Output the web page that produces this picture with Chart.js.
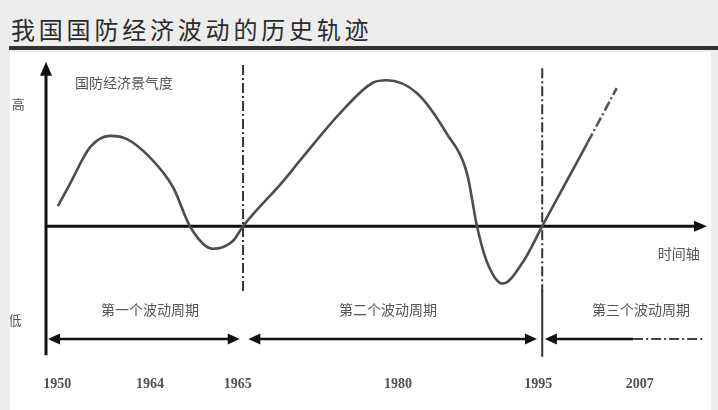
<!DOCTYPE html>
<html lang="zh">
<head>
<meta charset="utf-8">
<title>我国国防经济波动的历史轨迹</title>
<script src="https://cdn.jsdelivr.net/npm/chart.js@4.4.1/dist/chart.umd.min.js"></script>
<style>
  html, body { margin: 0; padding: 0; }
  body {
    width: 718px; height: 410px; overflow: hidden; position: relative;
    background: #ededed;
    font-family: "Noto Sans CJK SC", "Noto Sans", sans-serif;
  }
  .title {
    position: absolute; left: 11px; top: 14px;
    font-size: 24px; line-height: 30px; letter-spacing: 3.8px;
    color: #2b2b2b;
  }
  .rule { position: absolute; left: 9px; top: 46px; width: 709px; height: 4px; background: #333; }
  .panel { position: absolute; left: 10px; top: 52px; width: 701px; height: 358px; background: #fff; }
</style>
</head>
<body>
<div class="title">我国国防经济波动的历史轨迹</div>
<div class="rule"></div>
<div class="panel"><canvas id="waveChart" width="701" height="358"></canvas></div>

<script>
// time axis: 0..100 along the arrow, value axis: 0 = the time axis
const tickLabels = ['1950', '1964', '1965', '1980', '1995', '2007'];
const tickPos = [1.7, 15.8, 29.1, 53.4, 74.7, 90.1];

// observed wave (1950 - 1995)
const waveX = [1.8, 3.6, 6.7, 9.7, 12.3, 15.8, 19.3, 21.9, 25.3, 28.4, 29.9,
               36.0, 38.5, 44.6, 49.6, 51.7, 56.3, 60.8, 63.9, 65.4, 66.9, 69.3, 72.4, 75.3];
const waveY = [12.5, 26, 49, 56, 54, 42.5, 24, -0.5, -14, -9, 0,
               28, 40.5, 70, 89, 90.5, 82.5, 57.5, 32.5, 0, -22, -35.6, -22, 0];

// upswing after 1995 and its projected part
const trendX = [75.3, 82.2];
const trendY = [0, 52];
const forecastX = [82.2, 86.6];
const forecastY = [52, 85.6];

// cycles
const cycleNames = ['第一个波动周期', '第二个波动周期', '第三个波动周期'];
const cycleStart = [0.3, 30.7, 75.7];
const cycleEnd = [29.4, 74.5, 99.7];
const cycleSolidEnd = [29.4, 74.5, 89.1];
const cycleMid = [15.8, 51.9, 90.3];
const dividers = [29.9, 75.3];

function toPoints(xs, ys) {
    return xs.map((v, i) => ({ x: v, y: ys[i] }));
}

function arrowHead(ctx, tx, ty, dx, dy, len, half) {
    // dx,dy: unit direction the arrow points to
    const bx = tx - dx * len, by = ty - dy * len;
    ctx.beginPath();
    ctx.moveTo(tx, ty);
    ctx.lineTo(bx - dy * half, by + dx * half);
    ctx.lineTo(bx + dy * half, by - dx * half);
    ctx.closePath();
    ctx.fill();
}

const DASH_DOT = [10, 3, 2, 3];

// axes, dividers and cycle arrows drawn through the chart scales
const sketchPlugin = {
    id: 'sketch',
    beforeDatasetsDraw(chart) {
        const { ctx, scales: { x, y } } = chart;
        ctx.save();
        ctx.strokeStyle = '#111';
        ctx.fillStyle = '#111';

        // value axis (vertical arrow)
        const x0 = x.getPixelForValue(0);
        ctx.lineWidth = 3;
        ctx.beginPath();
        ctx.moveTo(x0, y.getPixelForValue(-80));
        ctx.lineTo(x0, y.getPixelForValue(96));
        ctx.stroke();
        arrowHead(ctx, x0, y.getPixelForValue(102), 0, -1, 14, 6);

        // time axis (horizontal arrow)
        const y0 = y.getPixelForValue(0);
        ctx.beginPath();
        ctx.moveTo(x0, y0);
        ctx.lineTo(x.getPixelForValue(98.5), y0);
        ctx.stroke();
        arrowHead(ctx, x.getPixelForValue(100.3), y0, 1, 0, 13, 5.5);

        // cycle dividers
        ctx.lineWidth = 2;
        ctx.strokeStyle = '#333';
        dividers.forEach((d, i) => {
            const px = x.getPixelForValue(d);
            ctx.setLineDash(DASH_DOT);
            ctx.beginPath();
            ctx.moveTo(px, y.getPixelForValue(i === 0 ? 100 : 98));
            ctx.lineTo(px, y.getPixelForValue(-41));
            ctx.stroke();
            if (i === 1) {
                ctx.setLineDash([]);
                ctx.beginPath();
                ctx.moveTo(px, y.getPixelForValue(-40));
                ctx.lineTo(px, y.getPixelForValue(-81));
                ctx.stroke();
            }
        });
        ctx.setLineDash([]);

        // cycle double arrows
        const ya = y.getPixelForValue(-70);
        ctx.strokeStyle = '#111';
        ctx.lineWidth = 2.5;
        cycleStart.forEach((s, i) => {
            const a = x.getPixelForValue(s);
            const b = x.getPixelForValue(cycleEnd[i]);
            const m = x.getPixelForValue(cycleSolidEnd[i]);
            ctx.beginPath();
            ctx.moveTo(a + 8, ya);
            ctx.lineTo(i === 2 ? m : b - 8, ya);
            ctx.stroke();
            arrowHead(ctx, a, ya, -1, 0, 12, 5.5);
            if (i < 2) {
                arrowHead(ctx, b, ya, 1, 0, 12, 5.5);
            } else {
                ctx.setLineDash(DASH_DOT);
                ctx.lineWidth = 2;
                ctx.strokeStyle = '#444';
                ctx.beginPath();
                ctx.moveTo(m, ya);
                ctx.lineTo(b, ya);
                ctx.stroke();
                ctx.setLineDash([]);
            }
        });
        ctx.restore();
    },
    afterDatasetsDraw(chart) {
        const { ctx, scales: { x, y } } = chart;
        ctx.save();
        ctx.fillStyle = '#555';
        ctx.textBaseline = 'middle';
        ctx.font = '14px "Noto Sans CJK SC"';

        ctx.textAlign = 'left';
        ctx.fillText('国防经济景气度', x.getPixelForValue(4.4), y.getPixelForValue(89));

        ctx.font = '13px "Noto Sans CJK SC"';
        ctx.textAlign = 'center';
        ctx.fillText('高', x.getPixelForValue(-4.2), y.getPixelForValue(76));
        ctx.fillText('低', x.getPixelForValue(-4.7), y.getPixelForValue(-58));

        ctx.font = '14px "Noto Sans CJK SC"';
        ctx.fillText('时间轴', x.getPixelForValue(96), y.getPixelForValue(-17));

        cycleNames.forEach((name, i) => {
            ctx.fillText(name, x.getPixelForValue(cycleMid[i]), y.getPixelForValue(-52));
        });
        ctx.restore();
    }
};

const ctx = document.getElementById('waveChart');
new Chart(ctx, {
    type: 'line',
    data: {
        datasets: [{
            label: '波动轨迹',
            data: toPoints(waveX, waveY),
            borderColor: '#4d4d4d',
            borderWidth: 2.6,
            pointRadius: 0,
            cubicInterpolationMode: 'monotone'
        }, {
            label: '上升',
            data: toPoints(trendX, trendY),
            borderColor: '#4d4d4d',
            borderWidth: 2.6,
            pointRadius: 0,
            tension: 0
        }, {
            label: '预测',
            data: toPoints(forecastX, forecastY),
            borderColor: '#555',
            borderWidth: 2.6,
            borderDash: DASH_DOT,
            pointRadius: 0,
            tension: 0
        }]
    },
    options: {
        responsive: false,
        animation: false,
        devicePixelRatio: 1,
        clip: false,
        layout: { padding: { left: 36, right: 6, top: 13, bottom: 4 } },
        plugins: {
            legend: { display: false },
            tooltip: { enabled: false }
        },
        scales: {
            x: {
                type: 'linear',
                min: 0,
                max: 100,
                grid: { display: false, drawTicks: false },
                border: { display: false },
                afterBuildTicks: scale => {
                    scale.ticks = tickPos.map(v => ({ value: v }));
                },
                ticks: {
                    autoSkip: false,
                    maxRotation: 0,
                    padding: 13,
                    color: '#505050',
                    font: { family: 'Liberation Serif', size: 14, weight: 'bold' },
                    callback: (value, index) => tickLabels[index]
                }
            },
            y: {
                type: 'linear',
                min: -85,
                max: 100,
                display: false
            }
        }
    },
    plugins: [sketchPlugin]
});
</script>
</body>
</html>
